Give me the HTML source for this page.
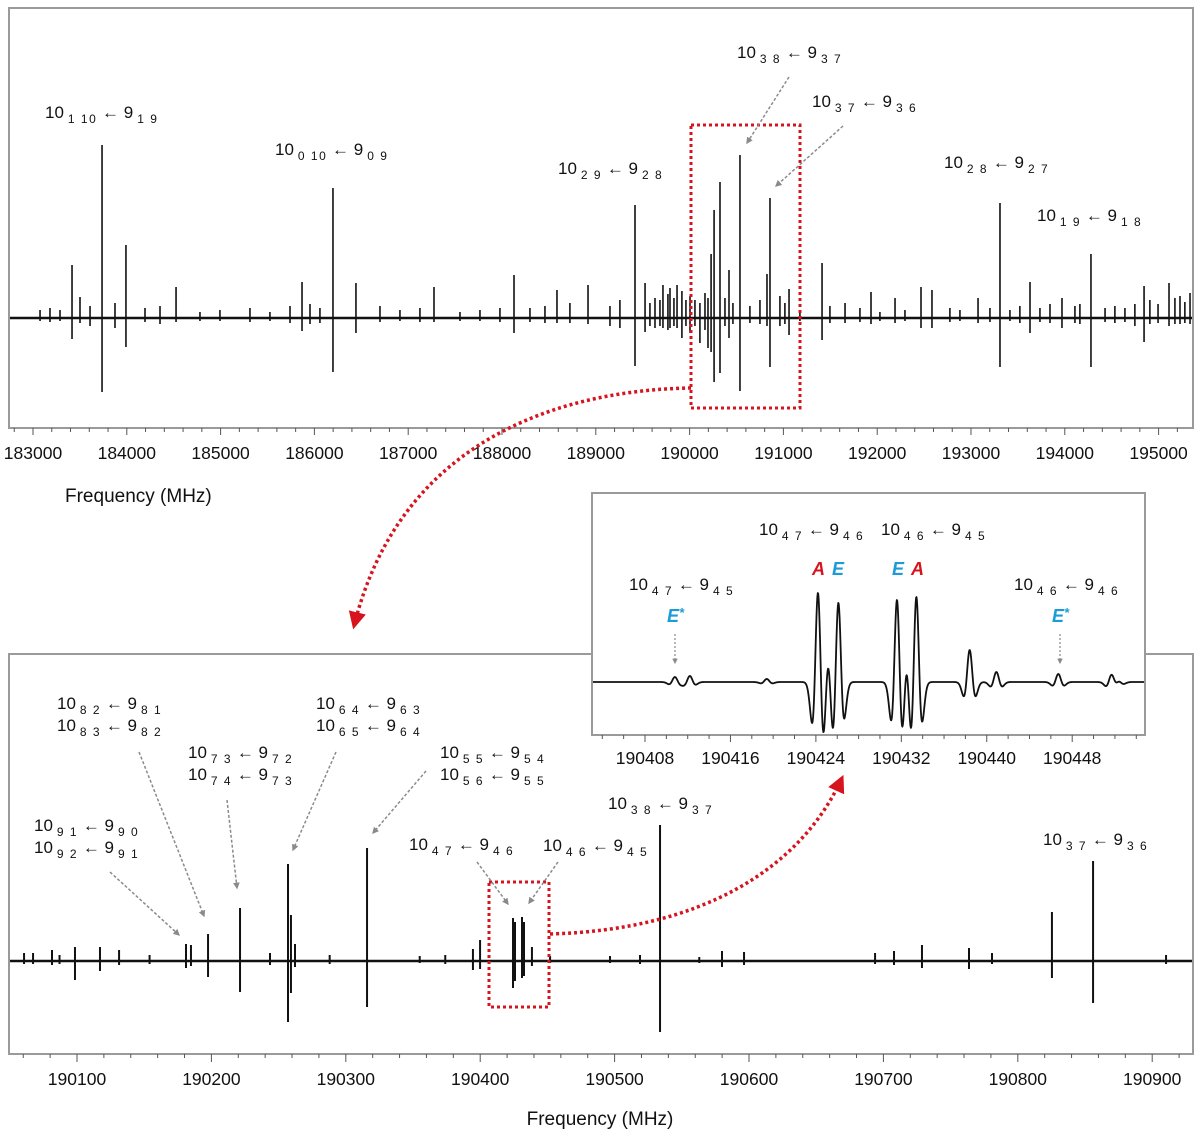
<!DOCTYPE html>
<html>
<head>
<meta charset="utf-8">
<style>
  html,body{margin:0;padding:0;background:#fff;}
  svg{display:block;font-family:"Liberation Sans",Arial,sans-serif;}
  .lbl{font-size:17px;fill:#111;}
  .s{font-size:12px;letter-spacing:1.5px;}
  .tick{font-size:17.5px;fill:#111;}
  .axt{font-size:19px;fill:#111;}
</style>
</head>
<body>
<svg id="fig" width="1200" height="1139" viewBox="0 0 1200 1139" xmlns="http://www.w3.org/2000/svg">
  <defs>
    <marker id="ga" viewBox="0 0 10 10" refX="8" refY="5" markerWidth="4.5" markerHeight="4.5" orient="auto">
      <path d="M0,0 L10,5 L0,10 z" fill="#8a8a8a"/>
    </marker>
    <marker id="ra" viewBox="0 0 10 10" refX="8" refY="5" markerWidth="5" markerHeight="5" orient="auto">
      <path d="M0,0 L10,5 L0,10 z" fill="#d7141e"/>
    </marker>
    <clipPath id="insetClip"><rect x="593" y="494" width="551" height="240"/></clipPath>
  </defs>

  <!-- TOP PANEL -->
  <g>
    <rect x="9" y="8" width="1184" height="420" fill="#fff" stroke="#9a9a9a" stroke-width="2"/>
    <g id="topMarks"></g>
    <g id="topAxis"></g>
    <text class="axt" x="65" y="502">Frequency (MHz)</text>
    <rect x="691" y="125" width="109" height="283" fill="none" stroke="#d7141e" stroke-width="3" stroke-dasharray="3,3"/>
    <text class="lbl" x="45" y="118">10<tspan class="s" dx="4" dy="5">1 10</tspan><tspan dy="-5"> ← 9</tspan><tspan class="s" dx="4" dy="5">1 9</tspan></text>
    <text class="lbl" x="275" y="155">10<tspan class="s" dx="4" dy="5">0 10</tspan><tspan dy="-5"> ← 9</tspan><tspan class="s" dx="4" dy="5">0 9</tspan></text>
    <text class="lbl" x="558" y="174">10<tspan class="s" dx="4" dy="5">2 9</tspan><tspan dy="-5"> ← 9</tspan><tspan class="s" dx="4" dy="5">2 8</tspan></text>
    <text class="lbl" x="737" y="58">10<tspan class="s" dx="4" dy="5">3 8</tspan><tspan dy="-5"> ← 9</tspan><tspan class="s" dx="4" dy="5">3 7</tspan></text>
    <text class="lbl" x="812" y="107">10<tspan class="s" dx="4" dy="5">3 7</tspan><tspan dy="-5"> ← 9</tspan><tspan class="s" dx="4" dy="5">3 6</tspan></text>
    <text class="lbl" x="944" y="168">10<tspan class="s" dx="4" dy="5">2 8</tspan><tspan dy="-5"> ← 9</tspan><tspan class="s" dx="4" dy="5">2 7</tspan></text>
    <text class="lbl" x="1037" y="221">10<tspan class="s" dx="4" dy="5">1 9</tspan><tspan dy="-5"> ← 9</tspan><tspan class="s" dx="4" dy="5">1 8</tspan></text>
    <line x1="789" y1="77" x2="747" y2="143" stroke="#8a8a8a" stroke-width="1.5" stroke-dasharray="3,2" marker-end="url(#ga)"/>
    <line x1="843" y1="126" x2="776" y2="186" stroke="#8a8a8a" stroke-width="1.5" stroke-dasharray="3,2" marker-end="url(#ga)"/>
  </g>

  <!-- BOTTOM PANEL -->
  <g>
    <rect x="9" y="654" width="1184" height="400" fill="#fff" stroke="#9a9a9a" stroke-width="2"/>
    <g id="botMarks"></g>
    <g id="botAxis"></g>
    <text class="axt" x="600" y="1125" text-anchor="middle">Frequency (MHz)</text>
    <rect x="489" y="882" width="60" height="125" fill="none" stroke="#d7141e" stroke-width="3" stroke-dasharray="3,3"/>

    <text class="lbl" x="57" y="709">10<tspan class="s" dx="4" dy="5">8 2</tspan><tspan dy="-5"> ← 9</tspan><tspan class="s" dx="4" dy="5">8 1</tspan></text>
    <text class="lbl" x="57" y="731">10<tspan class="s" dx="4" dy="5">8 3</tspan><tspan dy="-5"> ← 9</tspan><tspan class="s" dx="4" dy="5">8 2</tspan></text>
    <text class="lbl" x="188" y="758">10<tspan class="s" dx="4" dy="5">7 3</tspan><tspan dy="-5"> ← 9</tspan><tspan class="s" dx="4" dy="5">7 2</tspan></text>
    <text class="lbl" x="188" y="780">10<tspan class="s" dx="4" dy="5">7 4</tspan><tspan dy="-5"> ← 9</tspan><tspan class="s" dx="4" dy="5">7 3</tspan></text>
    <text class="lbl" x="316" y="709">10<tspan class="s" dx="4" dy="5">6 4</tspan><tspan dy="-5"> ← 9</tspan><tspan class="s" dx="4" dy="5">6 3</tspan></text>
    <text class="lbl" x="316" y="731">10<tspan class="s" dx="4" dy="5">6 5</tspan><tspan dy="-5"> ← 9</tspan><tspan class="s" dx="4" dy="5">6 4</tspan></text>
    <text class="lbl" x="440" y="758">10<tspan class="s" dx="4" dy="5">5 5</tspan><tspan dy="-5"> ← 9</tspan><tspan class="s" dx="4" dy="5">5 4</tspan></text>
    <text class="lbl" x="440" y="780">10<tspan class="s" dx="4" dy="5">5 6</tspan><tspan dy="-5"> ← 9</tspan><tspan class="s" dx="4" dy="5">5 5</tspan></text>
    <text class="lbl" x="34" y="831">10<tspan class="s" dx="4" dy="5">9 1</tspan><tspan dy="-5"> ← 9</tspan><tspan class="s" dx="4" dy="5">9 0</tspan></text>
    <text class="lbl" x="34" y="853">10<tspan class="s" dx="4" dy="5">9 2</tspan><tspan dy="-5"> ← 9</tspan><tspan class="s" dx="4" dy="5">9 1</tspan></text>
    <text class="lbl" x="409" y="850">10<tspan class="s" dx="4" dy="5">4 7</tspan><tspan dy="-5"> ← 9</tspan><tspan class="s" dx="4" dy="5">4 6</tspan></text>
    <text class="lbl" x="543" y="851">10<tspan class="s" dx="4" dy="5">4 6</tspan><tspan dy="-5"> ← 9</tspan><tspan class="s" dx="4" dy="5">4 5</tspan></text>
    <text class="lbl" x="608" y="809">10<tspan class="s" dx="4" dy="5">3 8</tspan><tspan dy="-5"> ← 9</tspan><tspan class="s" dx="4" dy="5">3 7</tspan></text>
    <text class="lbl" x="1043" y="845">10<tspan class="s" dx="4" dy="5">3 7</tspan><tspan dy="-5"> ← 9</tspan><tspan class="s" dx="4" dy="5">3 6</tspan></text>

    <g stroke="#8a8a8a" stroke-width="1.5" stroke-dasharray="3,2" fill="none">
      <line x1="110" y1="872" x2="179" y2="935" marker-end="url(#ga)"/>
      <line x1="139" y1="752" x2="204" y2="916" marker-end="url(#ga)"/>
      <line x1="227" y1="800" x2="237" y2="888" marker-end="url(#ga)"/>
      <line x1="336" y1="752" x2="293" y2="850" marker-end="url(#ga)"/>
      <line x1="426" y1="771" x2="373" y2="833" marker-end="url(#ga)"/>
      <line x1="477" y1="862" x2="508" y2="904" marker-end="url(#ga)"/>
      <line x1="558" y1="862" x2="529" y2="903" marker-end="url(#ga)"/>
    </g>
  </g>

  <!-- red connecting curves -->
  <path d="M691,388 C560,390 400,440 354,626" fill="none" stroke="#d7141e" stroke-width="3.5" stroke-dasharray="3,3" marker-end="url(#ra)"/>
  <path d="M550,934 C700,930 800,870 842,778" fill="none" stroke="#d7141e" stroke-width="3.5" stroke-dasharray="3,3" marker-end="url(#ra)"/>

  <!-- INSET -->
  <g>
    <rect x="592" y="493" width="553" height="242" fill="#fff" stroke="#9a9a9a" stroke-width="2"/>
    <g id="insetMarks" clip-path="url(#insetClip)"></g>
    <g id="insetAxis"></g>
    <text class="lbl" x="759" y="535">10<tspan class="s" dx="4" dy="5">4 7</tspan><tspan dy="-5"> ← 9</tspan><tspan class="s" dx="4" dy="5">4 6</tspan></text>
    <text class="lbl" x="881" y="535">10<tspan class="s" dx="4" dy="5">4 6</tspan><tspan dy="-5"> ← 9</tspan><tspan class="s" dx="4" dy="5">4 5</tspan></text>
    <text class="lbl" x="629" y="590">10<tspan class="s" dx="4" dy="5">4 7</tspan><tspan dy="-5"> ← 9</tspan><tspan class="s" dx="4" dy="5">4 5</tspan></text>
    <text class="lbl" x="1014" y="590">10<tspan class="s" dx="4" dy="5">4 6</tspan><tspan dy="-5"> ← 9</tspan><tspan class="s" dx="4" dy="5">4 6</tspan></text>
    <g font-size="18" font-weight="bold" font-style="italic">
      <text x="812" y="575" fill="#d7141e">A</text>
      <text x="832" y="575" fill="#1b9bd7">E</text>
      <text x="892" y="575" fill="#1b9bd7">E</text>
      <text x="911" y="575" fill="#d7141e">A</text>
      <text x="667" y="622" fill="#1b9bd7">E<tspan font-size="13" dy="-5">*</tspan></text>
      <text x="1052" y="622" fill="#1b9bd7">E<tspan font-size="13" dy="-5">*</tspan></text>
    </g>
    <line x1="675" y1="634" x2="675" y2="663" stroke="#8a8a8a" stroke-width="1.2" stroke-dasharray="2,2" marker-end="url(#ga)"/>
    <line x1="1060" y1="634" x2="1060" y2="663" stroke="#8a8a8a" stroke-width="1.2" stroke-dasharray="2,2" marker-end="url(#ga)"/>
  </g>
</svg>

<script>
// ---------- Overview spectrum data (MHz, intensity up / down in arbitrary units) ----------
const topFreq = [183075,183181,183288,183416,183501,183608,183736,183874,183991,184194,184354,184525,184780,184993,185313,185526,185740,185868,185953,186059,186198,186443,186699,186912,187125,187275,187552,187765,187978,188128,188298,188458,188586,188724,188917,189151,189257,189418,189525,189577,189631,189684,189716,189769,189791,189833,189866,189918,189961,190004,190057,190110,190164,190196,190229,190261,190324,190377,190420,190462,190537,190643,190750,190825,190857,190963,191016,191060,191176,191412,191496,191657,191816,191934,192029,192190,192296,192467,192584,192775,192882,193075,193202,193309,193415,193521,193629,193735,193842,193970,194108,194161,194279,194429,194534,194641,194747,194845,194907,194994,195111,195174,195228,195280,195335];
const topUp =   [8,10,8,53,21,12,173,15,73,10,12,31,6,8,10,6,12,36,14,10,130,35,12,8,10,31,6,8,10,43,10,12,28,15,33,12,18,113,35,15,20,18,33,24,30,20,33,27,18,22,18,15,25,20,64,108,136,20,48,15,163,12,18,44,120,22,15,29,8,55,12,15,10,26,6,20,8,31,28,10,8,20,10,115,8,12,36,10,14,20,12,14,64,10,12,10,14,32,18,14,35,20,22,16,25];
const topDown = [3,4,3,21,5,8,74,10,29,4,6,4,3,3,4,3,5,13,6,5,54,15,4,3,4,4,3,3,4,15,4,5,5,5,6,8,10,48,14,8,10,8,10,12,10,8,10,20,8,15,8,25,12,30,34,64,55,8,20,6,73,5,6,8,49,8,6,17,3,22,5,5,4,6,3,5,3,10,10,4,3,5,4,49,3,5,15,4,5,10,5,6,49,4,5,4,8,24,6,5,8,6,6,5,6];

// ---------- Zoomed spectrum data ----------
const botFreq = [190060.6,190067.3,190081.4,190087,190098.5,190117.1,190131.3,190154,190181.1,190184.8,190197.5,190221.3,190243.6,190257.0,190259.2,190262.2,190288,190315.8,190355,190374,190394.6,190399.9,190424.4,190425.9,190431.1,190432.6,190438.5,190452,190496.6,190518.9,190533.8,190563,190579.9,190596.3,190693.8,190707.9,190728.7,190763.7,190780.8,190825.4,190856.0,190910.3];
const botUp =   [8,8,11,6,14,14,11,6,17,16,27,53,8,97,46,17,6,113,5,6,12,21,43,39,44,39,14,5,5,6,136,4,10,9,8,10,16,13,8,49,100,6];
const botDown = [3,3,4,3,19,10,4,3,7,5,16,31,4,61,32,6,3,46,2,3,9,8,27,20,17,15,5,2,2,3,71,2,6,4,3,4,7,8,3,17,42,3];

// ---------- Inset lines (centre MHz, amplitude) ----------
const insetFreq = [190410.8,190412.2,190419.4,190424.2,190425.15,190426.1,190431.6,190432.5,190433.4,190438.4,190440.9,190446.7,190451.7,190452.3];
const insetAmp =  [5,6,3,92,30,82,86,30,89,32,10,8,9,4];

const topTicks = [183000,184000,185000,186000,187000,188000,189000,190000,191000,192000,193000,194000,195000];
const botTicks = [190100,190200,190300,190400,190500,190600,190700,190800,190900];
const insetTicks = [190408,190416,190424,190432,190440,190448];

const NS = 'http://www.w3.org/2000/svg';
const xTop = f => 33 + (f - 183000) * 0.0938;
const yTop = v => 318 - v;
const xBot = f => 77 + (f - 190100) * 1.344;
const yBot = v => 961 - v;
const xIn = f => 645 + (f - 190408) * 10.68;
const yIn = v => 682 - v;

function mk(tag, attrs, parent){
  const el = document.createElementNS(NS, tag);
  for (const k in attrs) el.setAttribute(k, attrs[k]);
  parent.appendChild(el);
  return el;
}

// overview spectrum
const tm = document.getElementById('topMarks');
const tb = mk('line', {x1:10, x2:1192, y1:318, y2:318, stroke:'#111', 'stroke-width':2.4}, tm);


topFreq.forEach((f, i) => {
  const ln = mk('line', {x1:xTop(f), x2:xTop(f), y1:yTop(topUp[i]), y2:yTop(-topDown[i]), stroke:'#111', 'stroke-width':1.6}, tm);
  
  
});
const ta = document.getElementById('topAxis');
for (let f = 182800; f <= 195400; f += 200) {
  const x = xTop(f);
  if (x < 10 || x > 1192) continue;
  const major = f % 1000 === 0;
  mk('line', {x1:x, x2:x, y1:428, y2:major ? 435 : 432, stroke:'#555', 'stroke-width':1}, ta);
}
topTicks.forEach(f => {
  const t = mk('text', {x:xTop(f), y:459, 'text-anchor':'middle', class:'tick'}, ta);
  t.textContent = f;
  
  
});

// zoomed spectrum
const bm = document.getElementById('botMarks');
const bb = mk('line', {x1:10, x2:1192, y1:961, y2:961, stroke:'#111', 'stroke-width':2.4}, bm);


botFreq.forEach((f, i) => {
  const ln = mk('line', {x1:xBot(f), x2:xBot(f), y1:yBot(botUp[i]), y2:yBot(-botDown[i]), stroke:'#111', 'stroke-width':2}, bm);
  
  
});
const ba = document.getElementById('botAxis');
for (let f = 190040; f <= 190940; f += 20) {
  const x = xBot(f);
  if (x < 10 || x > 1192) continue;
  const major = f % 100 === 0;
  mk('line', {x1:x, x2:x, y1:1054, y2:major ? 1062 : 1058, stroke:'#555', 'stroke-width':1}, ba);
}
botTicks.forEach(f => {
  const t = mk('text', {x:xBot(f), y:1085, 'text-anchor':'middle', class:'tick'}, ba);
  t.textContent = f;
  
  
});

// inset spectrum (each line drawn as a second-derivative lineshape)
const im = document.getElementById('insetMarks');
const s = 0.32;
let d = '';
for (let f = 190402.5; f <= 190455.5; f += 0.04) {
  let v = 0;
  insetFreq.forEach((f0, i) => {
    const u = (f - f0) / s;
    if (Math.abs(u) < 8) v += insetAmp[i] * (1 - u*u) * Math.exp(-u*u/2);
  });
  d += (d ? 'L' : 'M') + xIn(f).toFixed(2) + ',' + yIn(v).toFixed(2);
}
const ip = mk('path', {d:d, fill:'none', stroke:'#111', 'stroke-width':1.8, 'stroke-linejoin':'round'}, im);


const ia = document.getElementById('insetAxis');
for (let f = 190404; f <= 190454; f += 2) {
  const x = xIn(f);
  if (x < 593 || x > 1144) continue;
  const major = (f - 190408) % 8 === 0;
  mk('line', {x1:x, x2:x, y1:735, y2:major ? 742 : 739, stroke:'#555', 'stroke-width':1}, ia);
}
insetTicks.forEach(f => {
  const t = mk('text', {x:xIn(f), y:764, 'text-anchor':'middle', class:'tick', 'font-size':'17'}, ia);
  t.textContent = f;
  
  
});
</script>
</body>
</html>
